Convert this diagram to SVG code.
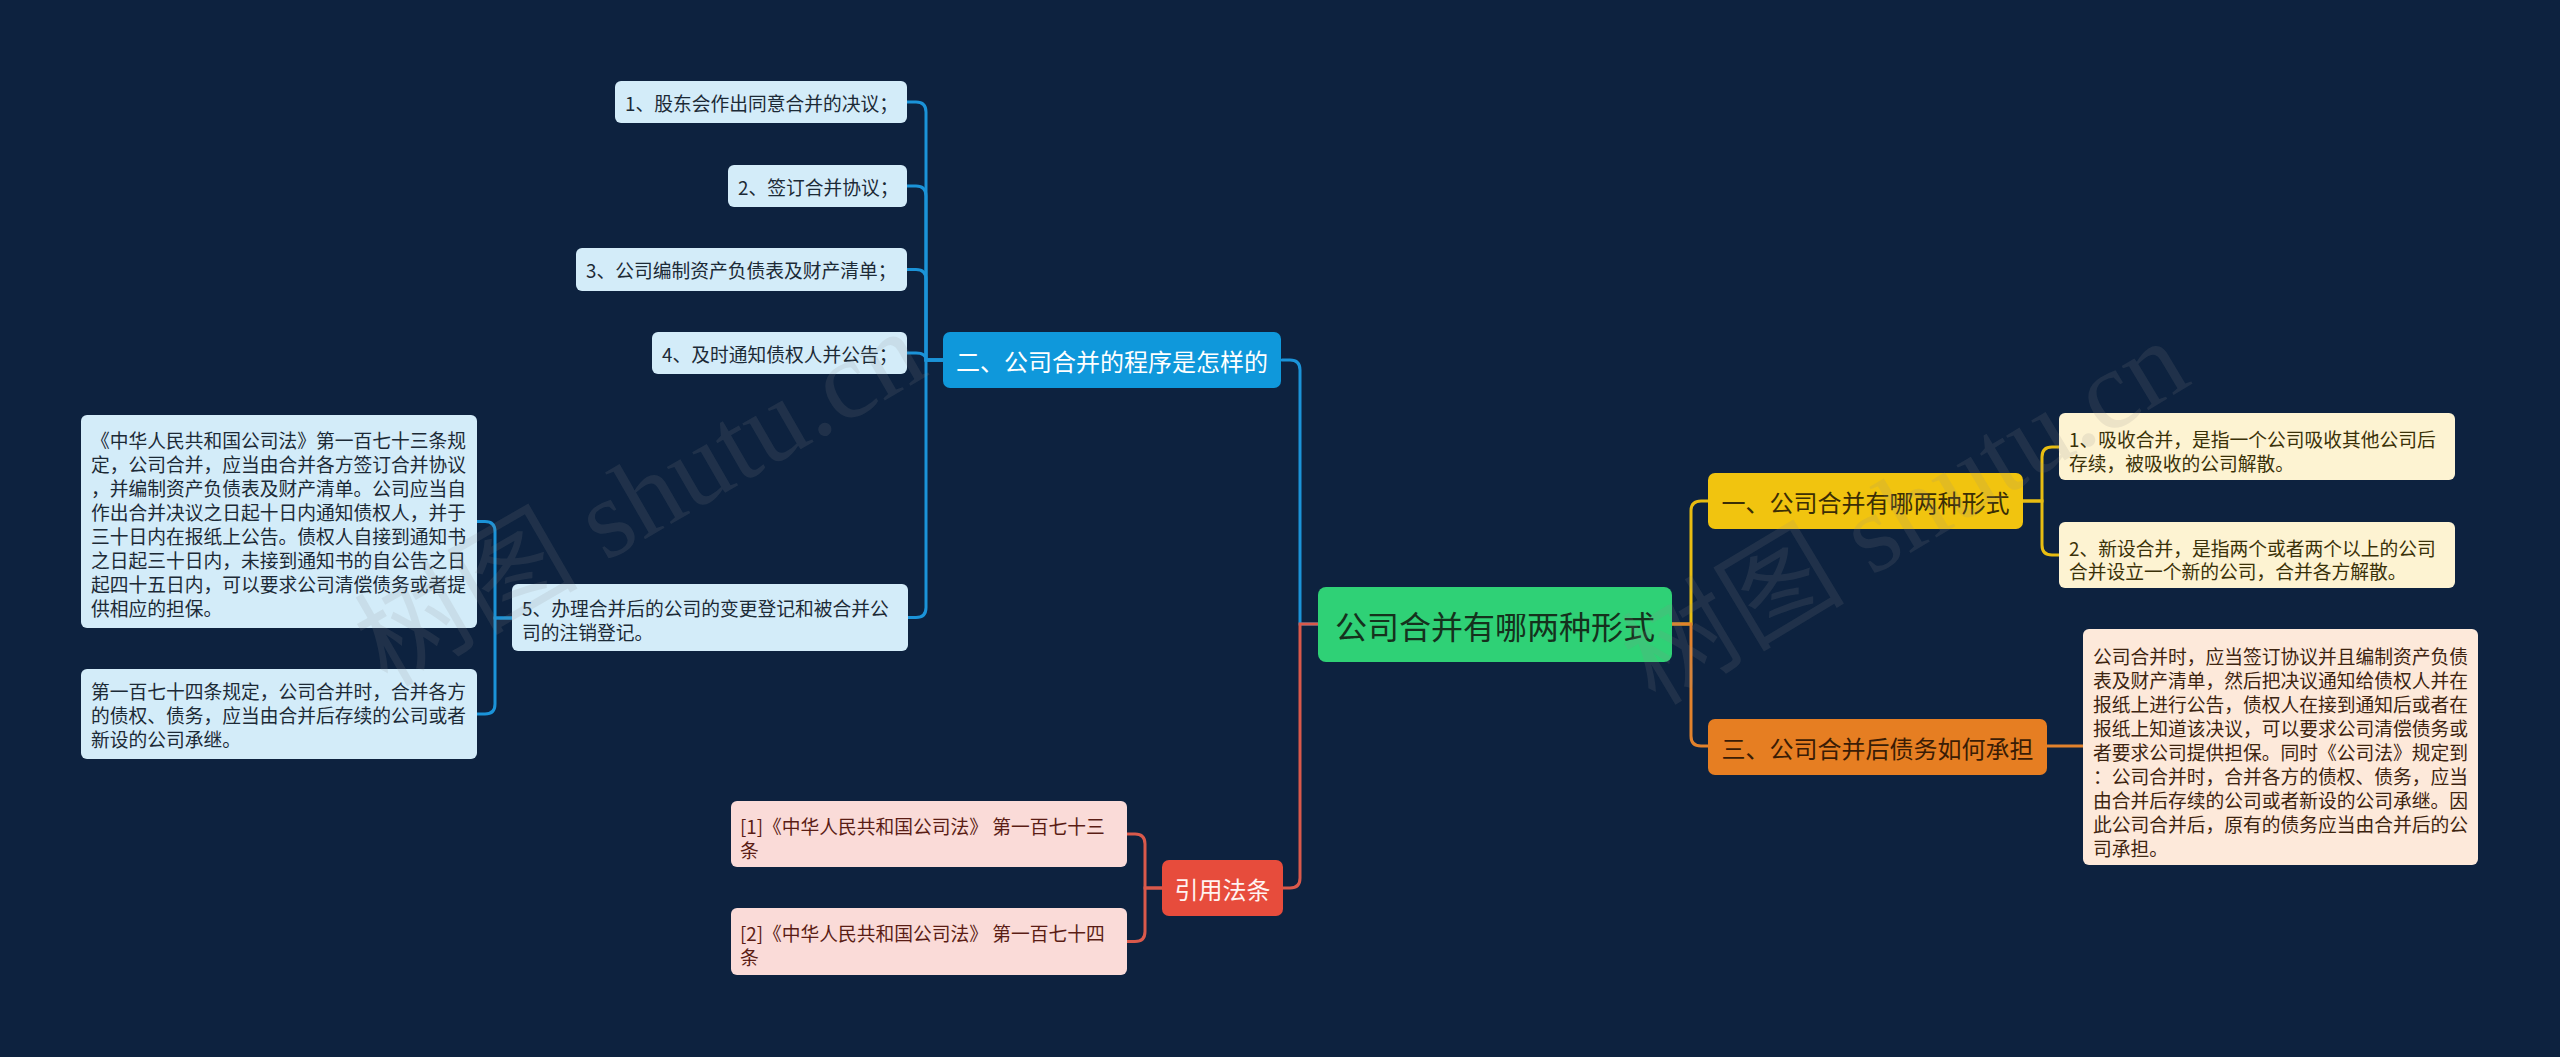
<svg xmlns="http://www.w3.org/2000/svg" width="2560" height="1057" viewBox="0 0 2560 1057">
<style>
.t{font-family:"Noto Sans CJK SC","Noto Sans",sans-serif;dominant-baseline:central}
.s{font-size:18.75px}
.b{font-size:24px;text-anchor:middle}
.c{fill:none;stroke-width:3;stroke-linecap:round}
.blue{stroke:#1b93d8}.yel{stroke:#e8bd12}.org{stroke:#e2822c}.red{stroke:#d9594b}
.nb rect{fill:#d3ecf9}.nb text{fill:#1c2a36}
.ny rect{fill:#fdf3d2}.ny text{fill:#3a3108}
.no rect{fill:#fde9da}.no text{fill:#3d2410}
.nr rect{fill:#fadbd8}.nr text{fill:#5a1d15}
.wm{font-family:"Liberation Serif","Noto Sans CJK SC",serif;font-size:112px;fill:#8a8a8a;fill-opacity:0.15;text-anchor:middle;dominant-baseline:central}
</style>
<rect width="2560" height="1057" fill="#0d223f"/>
<g id="connectors">
<path class="c blue" d="M1318,624 H1300 V370 Q1300,360 1290,360 H1282"/>
<path class="c red" d="M1318,624 H1300 V878 Q1300,888 1290,888 H1283"/>
<path class="c yel" d="M1672,624 H1691 V511 Q1691,501 1701,501 H1708"/>
<path class="c org" d="M1672,624 H1691 V736 Q1691,746 1701,746 H1708"/>
<path class="c blue" d="M943,360 H926 V112 Q926,102 916,102 H907"/>
<path class="c blue" d="M943,360 H926 V196 Q926,186 916,186 H907"/>
<path class="c blue" d="M943,360 H926 V279.5 Q926,269.5 916,269.5 H907"/>
<path class="c blue" d="M943,360 H926 V360 Q926,353 916,353 H907"/>
<path class="c blue" d="M943,360 H926 V607.5 Q926,617.5 916,617.5 H908"/>
<path class="c blue" d="M512,618 H495 V531.5 Q495,521.5 485,521.5 H477"/>
<path class="c blue" d="M512,618 H495 V704 Q495,714 485,714 H477"/>
<path class="c red" d="M1162,888 H1145 V844 Q1145,834 1135,834 H1127"/>
<path class="c red" d="M1162,888 H1145 V931.5 Q1145,941.5 1135,941.5 H1127"/>
<path class="c yel" d="M2023,501 H2042 V457 Q2042,447 2052,447 H2059"/>
<path class="c yel" d="M2023,501 H2042 V545 Q2042,555 2052,555 H2059"/>
<path class="c org" d="M2047,746 H2083"/>
</g>
<g id="root">
<rect x="1318" y="587" width="354" height="75" rx="8" fill="#2fd176"/>
<text class="t" x="1495" y="625" font-size="32" text-anchor="middle" fill="#15311d">公司合并有哪两种形式</text>
</g>
<g id="branch1">
<rect x="1708" y="473" width="315" height="56" rx="7" fill="#f1c40f"/>
<text class="t b" x="1865.5" y="501" fill="#3b2e05">一、公司合并有哪两种形式</text>
</g>
<g id="branch3">
<rect x="1708" y="719" width="339" height="56" rx="7" fill="#e67e22"/>
<text class="t b" x="1877.5" y="747" fill="#3a1c05">三、公司合并后债务如何承担</text>
</g>
<g id="branch2">
<rect x="943" y="332" width="338" height="56" rx="7" fill="#0f98db"/>
<text class="t b" x="1112" y="360" fill="#ffffff">二、公司合并的程序是怎样的</text>
</g>
<g id="branch4">
<rect x="1162" y="860" width="121" height="56" rx="7" fill="#e74c3c"/>
<text class="t b" x="1222.5" y="888" fill="#fff3f1">引用法条</text>
</g>
<g id="step1" class="nb">
<rect x="615" y="81" width="292" height="42" rx="6"/>
<text class="t s" x="625" y="102">1、股东会作出同意合并的决议；</text>
</g>
<g id="step2" class="nb">
<rect x="728" y="165" width="179" height="42" rx="6"/>
<text class="t s" x="738" y="186">2、签订合并协议；</text>
</g>
<g id="step3" class="nb">
<rect x="576" y="248" width="331" height="43" rx="6"/>
<text class="t s" x="586" y="269.5">3、公司编制资产负债表及财产清单；</text>
</g>
<g id="step4" class="nb">
<rect x="652" y="332" width="255" height="42" rx="6"/>
<text class="t s" x="662" y="353">4、及时通知债权人并公告；</text>
</g>
<g id="step5" class="nb">
<rect x="512" y="584" width="396" height="67" rx="6"/>
<text class="t s"><tspan x="522" y="607">5、办理合并后的公司的变更登记和被合并公</tspan><tspan x="522" y="631">司的注销登记。</tspan></text>
</g>
<g id="law173" class="nb">
<rect x="81" y="415" width="396" height="213" rx="6"/>
<text class="t s"><tspan x="91" y="439.3">《中华人民共和国公司法》第一百七十三条规</tspan><tspan x="91" y="463.2">定，公司合并，应当由合并各方签订合并协议</tspan><tspan x="91" y="487.1">，并编制资产负债表及财产清单。公司应当自</tspan><tspan x="91" y="511">作出合并决议之日起十日内通知债权人，并于</tspan><tspan x="91" y="534.9">三十日内在报纸上公告。债权人自接到通知书</tspan><tspan x="91" y="558.8">之日起三十日内，未接到通知书的自公告之日</tspan><tspan x="91" y="582.7">起四十五日内，可以要求公司清偿债务或者提</tspan><tspan x="91" y="606.6">供相应的担保。</tspan></text>
</g>
<g id="law174" class="nb">
<rect x="81" y="669" width="396" height="90" rx="6"/>
<text class="t s"><tspan x="91" y="690">第一百七十四条规定，公司合并时，合并各方</tspan><tspan x="91" y="714">的债权、债务，应当由合并后存续的公司或者</tspan><tspan x="91" y="738">新设的公司承继。</tspan></text>
</g>
<g id="ref1" class="nr">
<rect x="731" y="801" width="396" height="66" rx="6"/>
<text class="t s"><tspan x="740" y="825">[1]《中华人民共和国公司法》 第一百七十三</tspan><tspan x="740" y="848.5">条</tspan></text>
</g>
<g id="ref2" class="nr">
<rect x="731" y="908" width="396" height="67" rx="6"/>
<text class="t s"><tspan x="740" y="932">[2]《中华人民共和国公司法》 第一百七十四</tspan><tspan x="740" y="956">条</tspan></text>
</g>
<g id="form1" class="ny">
<rect x="2059" y="413" width="396" height="67" rx="6"/>
<text class="t s"><tspan x="2069" y="437.5">1、吸收合并，是指一个公司吸收其他公司后</tspan><tspan x="2069" y="461.5">存续，被吸收的公司解散。</tspan></text>
</g>
<g id="form2" class="ny">
<rect x="2059" y="522" width="396" height="66" rx="6"/>
<text class="t s"><tspan x="2069" y="546.5">2、新设合并，是指两个或者两个以上的公司</tspan><tspan x="2069" y="570">合并设立一个新的公司，合并各方解散。</tspan></text>
</g>
<g id="debt" class="no">
<rect x="2083" y="629" width="395" height="236" rx="6"/>
<text class="t s"><tspan x="2093" y="655">公司合并时，应当签订协议并且编制资产负债</tspan><tspan x="2093" y="679">表及财产清单，然后把决议通知给债权人并在</tspan><tspan x="2093" y="703">报纸上进行公告，债权人在接到通知后或者在</tspan><tspan x="2093" y="727">报纸上知道该决议，可以要求公司清偿债务或</tspan><tspan x="2093" y="751">者要求公司提供担保。同时《公司法》规定到</tspan><tspan x="2093" y="775">：公司合并时，合并各方的债权、债务，应当</tspan><tspan x="2093" y="799">由合并后存续的公司或者新设的公司承继。因</tspan><tspan x="2093" y="823">此公司合并后，原有的债务应当由合并后的公</tspan><tspan x="2093" y="847">司承担。</tspan></text>
</g>
<g id="watermark">
<text class="wm" transform="translate(640,498) rotate(-30)">树图 shutu.cn</text>
<text class="wm" transform="translate(1905,512) rotate(-31)">树图 shutu.cn</text>
</g>
</svg>
